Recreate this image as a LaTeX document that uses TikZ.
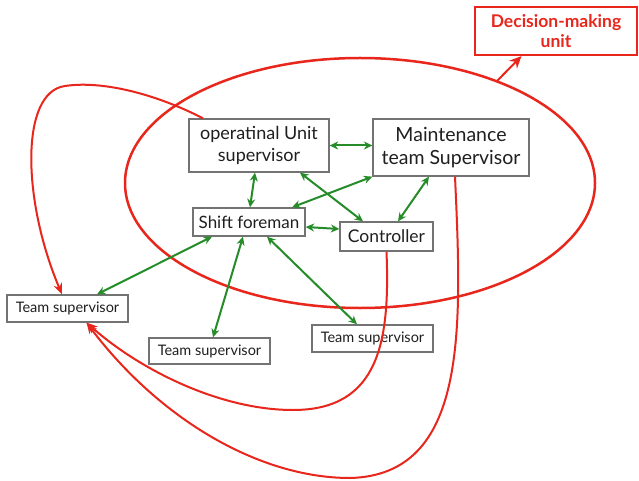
\documentclass[tikz,border=0pt]{standalone}
\usepackage{fontspec}
\setmainfont{Lato}
\usetikzlibrary{arrows.meta}
\definecolor{linkred}{RGB}{232,38,28}
\definecolor{linkgreen}{RGB}{38,140,42}
\definecolor{boxgray}{RGB}{115,115,115}
\begin{document}
\begin{tikzpicture}[x=1pt,y=-1pt,
  unitbox/.style={draw=boxgray,line width=1.3pt,fill=white,inner sep=0pt,align=center,text=black!88},
  link/.style={draw=linkgreen,line width=2pt,{Stealth[length=8.5pt,width=8pt]}-{Stealth[length=8.5pt,width=8pt]}},
  feedback/.style={draw=linkred,line width=2pt,-{Stealth[length=11pt,width=9pt]}},
  every node/.style={font=\fontsize{14}{16}\selectfont}]
\useasboundingbox (0,0) rectangle (639,481);
\fill[white] (0,0) rectangle (639,481);

% decision-making unit
\draw[linkred,line width=2.5pt] (360,183) ellipse [x radius=235, y radius=125];
\coordinate (rim) at (497,81);
\node[draw=linkred,line width=2.2pt,fill=white,minimum width=162pt,minimum height=48pt,inner sep=0pt,align=center,text=linkred,font=\bfseries\fontsize{17.5}{20}\selectfont]
  (dmu) at (556,31) {Decision-making\\unit};
\draw[linkred,line width=2pt,-{Stealth[length=12pt,width=11pt]}] (rim) -- (dmu.216);

% units
\node[unitbox,minimum width=140pt,minimum height=53pt,font=\fontsize{18}{22}\selectfont] (op) at (259,145.5) {operatinal Unit\\supervisor};
\node[unitbox,minimum width=156pt,minimum height=57pt,font=\fontsize{19.5}{23}\selectfont] (mt) at (451,147.5) {Maintenance\\team Supervisor};
\node[unitbox,minimum width=112pt,minimum height=28pt,font=\fontsize{17}{18}\selectfont] (sf) at (249,222) {Shift foreman};
\node[unitbox,minimum width=93pt,minimum height=29pt,font=\fontsize{17.5}{18}\selectfont] (ctl) at (386.5,236.5) {Controller};
\node[unitbox,minimum width=121pt,minimum height=27pt,font=\fontsize{14.5}{16}\selectfont] (tl) at (67.5,308.5) {Team supervisor};
\node[unitbox,minimum width=121pt,minimum height=26pt,font=\fontsize{14.5}{16}\selectfont] (tm) at (209.5,351) {Team supervisor};
\node[unitbox,minimum width=121pt,minimum height=27pt,font=\fontsize{14.5}{16}\selectfont] (tr) at (372.5,338.5) {Team supervisor};

% red feedback loops
\draw[feedback] ([xshift=-56pt]op.north) .. controls (160,96) and (105,80) .. (65,86)
  .. controls (20,92) and (22,200) .. ([xshift=-5.5pt]tl.north);
\draw[feedback] ([xshift=4pt]mt.south) .. controls (462,330) and (468,475) .. (350,478)
  .. controls (260,478) and (160,420) .. ([xshift=19pt]tl.south);
\draw[feedback] (ctl.south) .. controls (390,340) and (380,410) .. (293,410)
  .. controls (220,410) and (140,370) .. ([xshift=19pt]tl.south);

% green two-way links
\draw[link] (op.east) -- (op.east -| mt.west);
\draw[link] ([xshift=-4pt]op.south) -- ([xshift=1pt]sf.north);
\draw[link] ([xshift=41pt]op.south) -- ([xshift=-23.5pt]ctl.north);
\draw[link] (mt.south west) -- ([xshift=43pt]sf.north);
\draw[link] ([xshift=-22pt]mt.south) -- ([xshift=11.5pt]ctl.north);
\draw[link] ([yshift=-5pt]sf.east) -- ([yshift=7.5pt]ctl.west);
\draw[link] ([xshift=-37pt]sf.south) -- ([xshift=29.5pt]tl.north);
\draw[link] ([xshift=-6pt]sf.south) -- ([xshift=3.5pt]tm.north);
\draw[link] ([xshift=18pt]sf.south) -- ([xshift=-15.5pt]tr.north);
\end{tikzpicture}
\end{document}
